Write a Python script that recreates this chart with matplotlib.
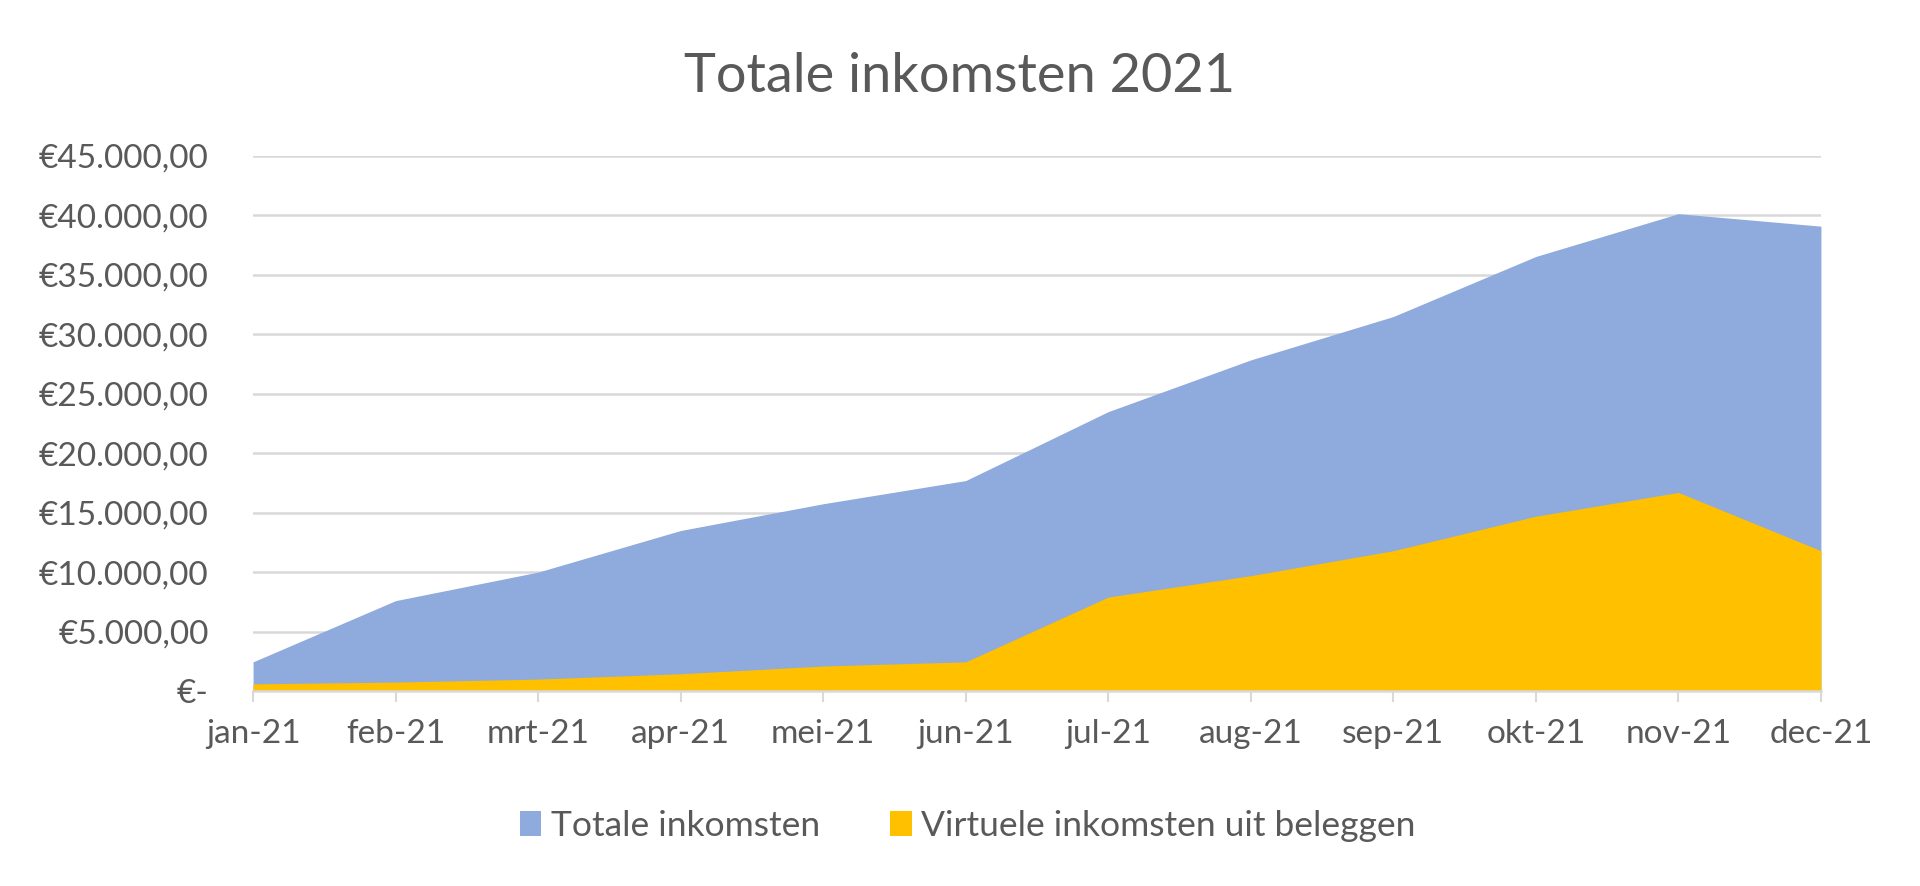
import numpy as np
import matplotlib
matplotlib.use("Agg")
import matplotlib.pyplot as plt
from matplotlib.patches import Patch
from matplotlib.ticker import FuncFormatter

plt.rcParams['font.family'] = ['Lato', 'DejaVu Sans']

# data
months = ['jan-21', 'feb-21', 'mrt-21', 'apr-21', 'mei-21', 'jun-21',
          'jul-21', 'aug-21', 'sep-21', 'okt-21', 'nov-21', 'dec-21']
totaal = [2450, 7600, 10000, 13500, 15750, 17700,
          23500, 27850, 31500, 36550, 40150, 39100]
virtueel = [600, 750, 1000, 1450, 2100, 2450,
            7900, 9700, 11800, 14700, 16700, 11800]

blauw = '#8FAADC'
geel = '#FFC000'
tekst = '#595959'
grijs = '#D9D9D9'


def euro(v, pos):
    if v == 0:
        return '€-'
    s = '{:,.2f}'.format(v)
    s = s.replace(',', 'X').replace('.', ',').replace('X', '.')
    return '€' + s


fig = plt.figure(figsize=(19.2, 8.86), dpi=100)
ax = fig.add_axes([0.1318, 0.2201, 0.9484 - 0.1318, 0.8239 - 0.2201])

x = np.arange(len(months))
ax.fill_between(x, 0, totaal, color=blauw, linewidth=0, zorder=2)
ax.fill_between(x, 0, virtueel, color=geel, linewidth=0, zorder=3)

ax.set_xlim(0, len(months) - 1)
ax.set_ylim(0, 45000)
ax.set_yticks(np.arange(0, 45001, 5000))
ax.yaxis.set_major_formatter(FuncFormatter(euro))
ax.set_xticks(x)
ax.set_xticklabels(months)

ax.yaxis.grid(True, color=grijs, linewidth=1.8, zorder=0)
ax.set_axisbelow(True)
for s in ['top', 'right', 'left']:
    ax.spines[s].set_visible(False)
ax.spines['bottom'].set_color(grijs)
ax.spines['bottom'].set_linewidth(1.8)
ax.spines['bottom'].set_zorder(4)

ax.tick_params(axis='y', length=0, pad=32, labelsize=24, labelcolor=tekst)
ax.tick_params(axis='x', length=8, width=1.5, color=grijs, pad=12,
               labelsize=24, labelcolor=tekst)

fig.text(0.5, 1 - 92 / 886, 'Totale inkomsten 2021', ha='center', va='baseline',
         fontsize=39, color=tekst)

handles = [Patch(facecolor=blauw, label='Totale inkomsten'),
           Patch(facecolor=geel, label='Virtuele inkomsten uit beleggen')]
leg = fig.legend(handles=handles, loc='center', bbox_to_anchor=(0.504, 1 - 826 / 886),
                 ncol=2, frameon=False, fontsize=25.5, handlelength=0.6,
                 handleheight=0.7, handletextpad=0.27, columnspacing=2.0)
for t in leg.get_texts():
    t.set_color(tekst)

fig.savefig('out.png', dpi=100)
